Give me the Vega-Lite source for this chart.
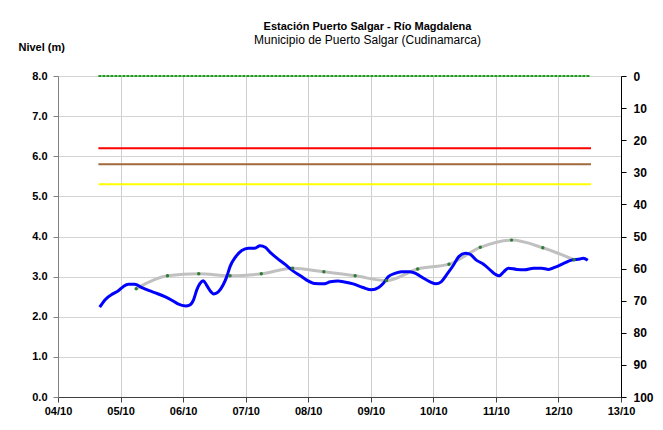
{
  "$schema": "https://vega.github.io/schema/vega-lite/v6.json",
  "width": 563,
  "height": 321,
  "autosize": "none",
  "padding": {"left": 58, "top": 76, "right": 42, "bottom": 33},
  "background": "white",
  "config": {
    "view": {"stroke": null},
    "font": "Liberation Sans",
    "axis": {"labelFont": "Liberation Sans", "labelFontWeight": "bold", "labelFontSize": 11, "labelColor": "black", "titleFont": "Liberation Sans", "titleColor": "black"}
  },
  "title": {
    "text": "Estación Puerto Salgar - Río Magdalena",
    "subtitle": "Municipio de Puerto Salgar (Cudinamarca)",
    "anchor": "middle",
    "frame": "group",
    "dx": 28,
    "offset": -5,
    "font": "Liberation Sans",
    "fontSize": 11,
    "fontWeight": "bold",
    "color": "black",
    "subtitleFont": "Liberation Sans",
    "subtitleFontSize": 12,
    "subtitleColor": "black",
    "subtitlePadding": 3
  },
  "datasets": {
    "nivel": [
      {"fecha": "2010-10-04T16:00", "nivel": 2.24},
      {"fecha": "2010-10-04T18:00", "nivel": 2.42},
      {"fecha": "2010-10-04T21:00", "nivel": 2.57},
      {"fecha": "2010-10-04T23:00", "nivel": 2.64},
      {"fecha": "2010-10-05T01:00", "nivel": 2.75},
      {"fecha": "2010-10-05T03:00", "nivel": 2.81},
      {"fecha": "2010-10-05T05:30", "nivel": 2.81},
      {"fecha": "2010-10-05T08:00", "nivel": 2.73},
      {"fecha": "2010-10-05T11:00", "nivel": 2.65},
      {"fecha": "2010-10-05T14:00", "nivel": 2.58},
      {"fecha": "2010-10-05T17:00", "nivel": 2.50},
      {"fecha": "2010-10-05T20:00", "nivel": 2.40},
      {"fecha": "2010-10-05T22:00", "nivel": 2.32},
      {"fecha": "2010-10-06T01:00", "nivel": 2.27},
      {"fecha": "2010-10-06T02:30", "nivel": 2.29},
      {"fecha": "2010-10-06T04:00", "nivel": 2.42},
      {"fecha": "2010-10-06T05:15", "nivel": 2.67},
      {"fecha": "2010-10-06T06:30", "nivel": 2.83},
      {"fecha": "2010-10-06T07:45", "nivel": 2.90},
      {"fecha": "2010-10-06T09:00", "nivel": 2.79},
      {"fecha": "2010-10-06T10:20", "nivel": 2.65},
      {"fecha": "2010-10-06T11:45", "nivel": 2.57},
      {"fecha": "2010-10-06T13:30", "nivel": 2.62},
      {"fecha": "2010-10-06T15:20", "nivel": 2.79},
      {"fecha": "2010-10-06T16:45", "nivel": 3.00},
      {"fecha": "2010-10-06T18:00", "nivel": 3.25},
      {"fecha": "2010-10-06T20:00", "nivel": 3.48},
      {"fecha": "2010-10-06T22:30", "nivel": 3.65},
      {"fecha": "2010-10-07T01:00", "nivel": 3.71},
      {"fecha": "2010-10-07T03:30", "nivel": 3.71},
      {"fecha": "2010-10-07T05:30", "nivel": 3.77},
      {"fecha": "2010-10-07T07:30", "nivel": 3.73},
      {"fecha": "2010-10-07T09:30", "nivel": 3.60},
      {"fecha": "2010-10-07T12:00", "nivel": 3.46},
      {"fecha": "2010-10-07T15:00", "nivel": 3.31},
      {"fecha": "2010-10-07T18:00", "nivel": 3.15},
      {"fecha": "2010-10-07T21:00", "nivel": 3.02},
      {"fecha": "2010-10-07T23:15", "nivel": 2.92},
      {"fecha": "2010-10-08T02:30", "nivel": 2.83},
      {"fecha": "2010-10-08T05:45", "nivel": 2.82},
      {"fecha": "2010-10-08T08:30", "nivel": 2.87},
      {"fecha": "2010-10-08T11:30", "nivel": 2.89},
      {"fecha": "2010-10-08T13:30", "nivel": 2.87},
      {"fecha": "2010-10-08T17:15", "nivel": 2.82},
      {"fecha": "2010-10-08T21:00", "nivel": 2.73},
      {"fecha": "2010-10-09T00:15", "nivel": 2.67},
      {"fecha": "2010-10-09T03:00", "nivel": 2.73},
      {"fecha": "2010-10-09T04:45", "nivel": 2.83},
      {"fecha": "2010-10-09T06:45", "nivel": 3.00},
      {"fecha": "2010-10-09T09:15", "nivel": 3.08},
      {"fecha": "2010-10-09T11:45", "nivel": 3.12},
      {"fecha": "2010-10-09T15:00", "nivel": 3.12},
      {"fecha": "2010-10-09T17:30", "nivel": 3.07},
      {"fecha": "2010-10-09T20:15", "nivel": 2.96},
      {"fecha": "2010-10-09T22:45", "nivel": 2.87},
      {"fecha": "2010-10-10T01:00", "nivel": 2.82},
      {"fecha": "2010-10-10T03:00", "nivel": 2.87},
      {"fecha": "2010-10-10T05:00", "nivel": 3.04},
      {"fecha": "2010-10-10T07:45", "nivel": 3.29},
      {"fecha": "2010-10-10T09:45", "nivel": 3.50},
      {"fecha": "2010-10-10T12:15", "nivel": 3.58},
      {"fecha": "2010-10-10T14:00", "nivel": 3.56},
      {"fecha": "2010-10-10T16:30", "nivel": 3.41},
      {"fecha": "2010-10-10T19:15", "nivel": 3.31},
      {"fecha": "2010-10-10T21:45", "nivel": 3.17},
      {"fecha": "2010-10-10T23:45", "nivel": 3.06},
      {"fecha": "2010-10-11T01:15", "nivel": 3.02},
      {"fecha": "2010-10-11T03:00", "nivel": 3.12},
      {"fecha": "2010-10-11T04:45", "nivel": 3.21},
      {"fecha": "2010-10-11T08:00", "nivel": 3.18},
      {"fecha": "2010-10-11T11:00", "nivel": 3.17},
      {"fecha": "2010-10-11T14:30", "nivel": 3.21},
      {"fecha": "2010-10-11T17:30", "nivel": 3.21},
      {"fecha": "2010-10-11T20:15", "nivel": 3.18},
      {"fecha": "2010-10-11T22:30", "nivel": 3.23},
      {"fecha": "2010-10-12T02:00", "nivel": 3.33},
      {"fecha": "2010-10-12T05:00", "nivel": 3.41},
      {"fecha": "2010-10-12T08:15", "nivel": 3.44},
      {"fecha": "2010-10-12T09:30", "nivel": 3.46},
      {"fecha": "2010-10-12T11:15", "nivel": 3.41}
    ],
    "pronostico": [
      {"fecha": "2010-10-05T06:00", "nivel": 2.70},
      {"fecha": "2010-10-05T18:00", "nivel": 3.02},
      {"fecha": "2010-10-06T06:00", "nivel": 3.07},
      {"fecha": "2010-10-06T18:00", "nivel": 3.02},
      {"fecha": "2010-10-07T06:00", "nivel": 3.07},
      {"fecha": "2010-10-07T18:00", "nivel": 3.21},
      {"fecha": "2010-10-08T06:00", "nivel": 3.12},
      {"fecha": "2010-10-08T18:00", "nivel": 3.02},
      {"fecha": "2010-10-09T06:00", "nivel": 2.90},
      {"fecha": "2010-10-09T18:00", "nivel": 3.19},
      {"fecha": "2010-10-10T06:00", "nivel": 3.31},
      {"fecha": "2010-10-10T18:00", "nivel": 3.73},
      {"fecha": "2010-10-11T06:00", "nivel": 3.91},
      {"fecha": "2010-10-11T18:00", "nivel": 3.72},
      {"fecha": "2010-10-12T06:00", "nivel": 3.42}
    ],
    "umbrales": [
      {"tipo": "maximo", "inicio": "2010-10-04T15:30", "fin": "2010-10-12T12:00", "nivel": 8.0},
      {"tipo": "rojo", "inicio": "2010-10-04T15:30", "fin": "2010-10-12T12:30", "nivel": 6.2},
      {"tipo": "naranja", "inicio": "2010-10-04T15:30", "fin": "2010-10-12T12:30", "nivel": 5.8},
      {"tipo": "amarillo", "inicio": "2010-10-04T15:30", "fin": "2010-10-12T12:30", "nivel": 5.3}
    ],
    "escala": [{"p": 0}, {"p": 100}]
  },
  "resolve": {"scale": {"y": "independent"}, "axis": {"y": "independent"}},
  "layer": [
    {
      "layer": [
        {
          "data": {"name": "umbrales"},
          "mark": {"type": "rule", "strokeWidth": 2},
          "encoding": {
            "x": {"field": "inicio", "type": "temporal"},
            "x2": {"field": "fin"},
            "y": {"field": "nivel", "type": "quantitative"},
            "color": {"field": "tipo", "type": "nominal", "legend": null,
              "scale": {"domain": ["maximo", "rojo", "naranja", "amarillo"], "range": ["#1e9a1e", "#ff0000", "#a0693c", "#ffff00"]}},
            "strokeDash": {"field": "tipo", "type": "nominal", "legend": null,
              "scale": {"domain": ["maximo", "rojo", "naranja", "amarillo"], "range": [[3, 1], [1, 0], [1, 0], [1, 0]]}}
          }
        },
        {
          "data": {"name": "pronostico"},
          "mark": {"type": "line", "color": "#c0c0c0", "strokeWidth": 3, "interpolate": "monotone"},
          "encoding": {
            "x": {"field": "fecha", "type": "temporal"},
            "y": {"field": "nivel", "type": "quantitative"}
          }
        },
        {
          "data": {"name": "nivel"},
          "mark": {"type": "line", "color": "#0000ff", "strokeWidth": 3, "interpolate": "monotone"},
          "encoding": {
            "x": {"field": "fecha", "type": "temporal"},
            "y": {"field": "nivel", "type": "quantitative"}
          }
        },
        {
          "data": {"name": "pronostico"},
          "mark": {"type": "point", "filled": true, "color": "#2e7d32", "size": 12, "opacity": 1},
          "encoding": {
            "x": {"field": "fecha", "type": "temporal",
              "scale": {"domain": [{"year": 2010, "month": 10, "date": 4}, {"year": 2010, "month": 10, "date": 13}], "nice": false},
              "axis": {"title": null, "format": "%d/%m", "tickCount": {"interval": "day", "step": 1},
                "domainColor": "#404040", "tickColor": "#404040", "tickSize": 5, "labelPadding": 3,
                "grid": true, "gridColor": "#cfcfcf", "labelFlush": false}},
            "y": {"field": "nivel", "type": "quantitative",
              "scale": {"domain": [0, 8], "nice": false},
              "axis": {"title": "Nivel (m)", "titleAngle": 0, "titleX": -40, "titleY": -29, "titleAlign": "left", "titleBaseline": "middle",
                "titleFontSize": 11, "titleFontWeight": "bold",
                "values": [0, 1, 2, 3, 4, 5, 6, 7, 8], "format": ".1f",
                "domainColor": "#808080", "tickColor": "#808080", "tickSize": 5, "labelPadding": 6,
                "grid": true, "gridColor": "#d4d4d4"}}
          }
        }
      ]
    },
    {
      "data": {"name": "escala"},
      "mark": {"type": "point", "opacity": 0},
      "encoding": {
        "y": {"field": "p", "type": "quantitative",
          "scale": {"domain": [0, 100], "reverse": true, "nice": false},
          "axis": {"orient": "right", "title": null, "values": [0, 10, 20, 30, 40, 50, 60, 70, 80, 90, 100],
            "domainColor": "black", "tickColor": "black", "tickSize": 5, "labelPadding": 7, "grid": false, "labelFontSize": 12}}
      }
    }
  ]
}
